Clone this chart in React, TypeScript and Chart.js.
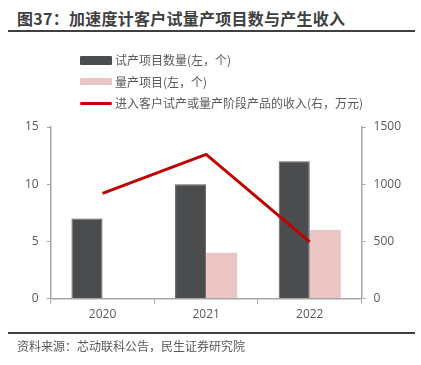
import React, { useEffect, useRef } from "react";
import { Chart, registerables } from "chart.js";

Chart.register(...registerables);

const categories = ["2020", "2021", "2022"];
const trialProjects = [7, 10, 12];
const massProjects = [0, 4, 6];
const revenue = [920, 1260, 495];
const leftTicks = [0, 5, 10, 15];
const rightTicks = [0, 500, 1000, 1500];

const legendItems = [
  { label: "试产项目数量(左，个)", color: "#4b4c4e", kind: "box" },
  { label: "量产项目(左，个)", color: "#ebc4c4", kind: "box" },
  { label: "进入客户试产或量产阶段产品的收入(右，万元)", color: "#c00000", kind: "line" },
];

const FONT = "'Open Sans', 'Noto Sans CJK SC', sans-serif";
const CJK = "'Noto Sans CJK SC', sans-serif";

export default function App() {
  const ref = useRef<HTMLCanvasElement | null>(null);
  useEffect(() => {
    if (!ref.current) return;
    const chart = new Chart(ref.current, {
      type: "bar",
      data: {
        labels: categories,
        datasets: [
          {
            type: "line",
            label: legendItems[2].label,
            data: revenue,
            yAxisID: "y1",
            borderColor: "#c00000",
            borderWidth: 3,
            pointRadius: 0,
            tension: 0,
            order: 0,
          } as any,
          {
            label: legendItems[0].label,
            data: trialProjects,
            backgroundColor: "#4b4c4e",
            borderColor: "#5e5f61",
            borderWidth: 1,
            yAxisID: "y",
            categoryPercentage: 0.6,
            barPercentage: 1,
            order: 1,
          },
          {
            label: legendItems[1].label,
            data: massProjects,
            backgroundColor: "#ebc4c4",
            yAxisID: "y",
            categoryPercentage: 0.6,
            barPercentage: 1,
            order: 1,
          },
        ],
      },
      options: {
        responsive: false,
        animation: false,
        layout: { padding: { top: 127, bottom: 39, left: 17, right: 12 } },
        plugins: { legend: { display: false }, tooltip: { enabled: false } },
        scales: {
          x: {
            offset: true,
            grid: { display: true, drawOnChartArea: false, drawTicks: true, tickLength: 5, color: "#a6a6a6", offset: true },
            border: { color: "#a6a6a6", width: 1.5 },
            ticks: { color: "#595959", font: { family: FONT, size: 12 }, padding: 4 },
          },
          y: {
            position: "left",
            min: 0,
            max: 15,
            afterBuildTicks: (s: any) => { s.ticks = leftTicks.map((v) => ({ value: v })); },
            grid: { display: true, drawOnChartArea: false, drawTicks: true, tickLength: 4, color: "#a6a6a6" },
            border: { color: "#a6a6a6", width: 1.5 },
            ticks: { color: "#595959", font: { family: FONT, size: 12 }, padding: 8, callback: (v: any) => String(v) },
          },
          y1: {
            position: "right",
            min: 0,
            max: 1500,
            afterBuildTicks: (s: any) => { s.ticks = rightTicks.map((v) => ({ value: v })); },
            grid: { display: true, drawOnChartArea: false, drawTicks: true, tickLength: 4, color: "#a6a6a6" },
            border: { color: "#a6a6a6", width: 1.5 },
            ticks: { color: "#595959", font: { family: FONT, size: 12 }, padding: 8, callback: (v: any) => String(v) },
          },
        },
      },
    });
    return () => chart.destroy();
  }, []);

  return (
    <div style={{ position: "absolute", left: 0, top: 0, width: 421, height: 365, background: "#fff", overflow: "hidden" }}>
      <div
        style={{
          position: "absolute", left: 17, top: 7, fontFamily: CJK, fontWeight: "bold", fontSize: 16,
          letterSpacing: 0.25, color: "#404040", whiteSpace: "nowrap", lineHeight: "22px",
        }}
      >
        图37：加速度计客户试量产项目数与产生收入
      </div>
      <div style={{ position: "absolute", left: 8, top: 30, width: 407, height: 2, background: "#404040" }} />
      <canvas ref={ref} width={421} height={365} style={{ position: "absolute", left: 0, top: 0 }} />
      {legendItems.map((it, i) => (
        <div key={i} style={{ position: "absolute", left: 80, top: 51 + i * 21.5, height: 18, display: "flex", alignItems: "center" }}>
          <div
            style={{
              width: 32, height: it.kind === "line" ? 3 : i === 0 ? 9 : 7, background: it.color,
              borderRadius: it.kind === "line" ? 1.5 : 1,
            }}
          />
          <span style={{ marginLeft: 3, fontFamily: CJK, fontSize: 12, color: "#595959", whiteSpace: "nowrap", lineHeight: "18px" }}>
            {it.label}
          </span>
        </div>
      ))}
      <div style={{ position: "absolute", left: 8, top: 332, width: 407, height: 1.5, background: "#404040" }} />
      <div style={{ position: "absolute", left: 17, top: 337, fontFamily: CJK, fontSize: 12, color: "#595959", whiteSpace: "nowrap", lineHeight: "18px" }}>
        资料来源：芯动联科公告，民生证券研究院
      </div>
    </div>
  );
}
